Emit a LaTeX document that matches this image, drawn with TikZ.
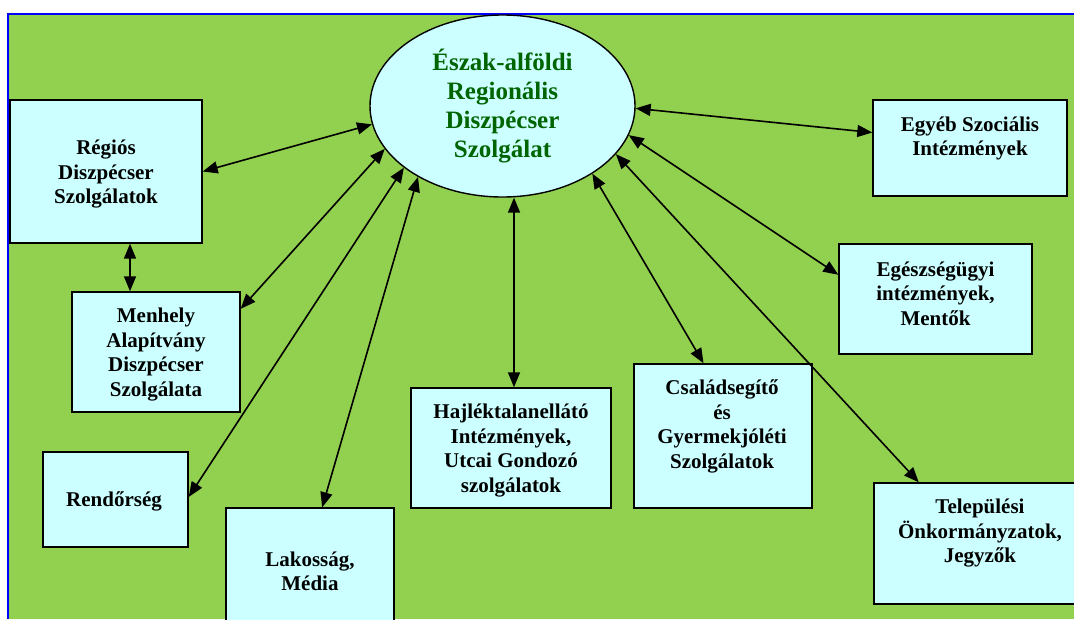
\documentclass[tikz,border=0pt]{standalone}
\usepackage{fontspec}
\setmainfont{Liberation Serif}
\usepackage{xcolor}
\usetikzlibrary{arrows.meta, shapes.geometric}
\definecolor{bggreen}{RGB}{146,208,80}
\definecolor{boxcyan}{RGB}{204,255,255}
\definecolor{titlegreen}{RGB}{0,100,0}
\definecolor{frameblue}{RGB}{0,0,255}

\begin{document}
\begin{tikzpicture}[x=1pt, y=-1pt]

% Define styles for the nodes
\tikzstyle{unit} = [rectangle, draw=black, line width=1.4pt, fill=boxcyan, inner sep=0pt]
\tikzstyle{caption} = [align=center, inner sep=0pt, font=\fontsize{21}{24.5}\selectfont\bfseries]
\tikzstyle{hub} = [ellipse, draw=black, line width=1.4pt, fill=boxcyan, inner sep=0pt, align=center, text=titlegreen, font=\fontsize{25}{29}\selectfont\bfseries]
\tikzstyle{link} = [{Triangle[length=15pt,width=12pt]}-{Triangle[length=15pt,width=12pt]}, line width=1.6pt]

% Background
\useasboundingbox (0,0) rectangle (1074,619);
\clip (0,0) rectangle (1074,619);
\fill[bggreen] (8,14) rectangle (1074,619);
\draw[frameblue, line width=2pt] (8,619) -- (8,14) -- (1074,14);

% Nodes
\node (dispatch) [hub, minimum width=265pt, minimum height=182pt] at (502.5,106) {Észak-alföldi\\Regionális\\Diszpécser\\Szolgálat};

\node (regios) [unit, minimum width=192pt, minimum height=143pt] at (106,171.5) {};
\node (regios-t) [caption] at (106,174.5) {Régiós\\Diszpécser\\Szolgálatok};

\node (menhely) [unit, minimum width=168pt, minimum height=120pt] at (156,352) {};
\node (menhely-t) [caption] at (156,354.5) {Menhely\\Alapítvány\\Diszpécser\\Szolgálata};

\node (rendorseg) [unit, minimum width=145pt, minimum height=95pt] at (115.5,499.5) {};
\node (rendorseg-t) [caption] at (114,501) {Rendőrség};

\node (lakossag) [unit, minimum width=168pt, minimum height=124pt] at (310,570) {};
\node (lakossag-t) [caption] at (310,571.5) {Lakosság,\\Média};

\node (hajlek) [unit, minimum width=200pt, minimum height=120pt] at (511,448) {};
\node (hajlek-t) [caption] at (511,450.5) {Hajléktalanellátó\\Intézmények,\\Utcai Gondozó\\szolgálatok};

\node (csalad) [unit, minimum width=178pt, minimum height=144pt] at (723,436) {};
\node (csalad-t) [caption] at (722,426.5) {Családsegítő\\és\\Gyermekjóléti\\Szolgálatok};

\node (egyeb) [unit, minimum width=194pt, minimum height=96pt] at (970,148) {};
\node (egyeb-t) [caption] at (970,138.5) {Egyéb Szociális\\Intézmények};

\node (egeszseg) [unit, minimum width=193pt, minimum height=110pt] at (935.5,299) {};
\node (egeszseg-t) [caption] at (935.5,293.5) {Egészségügyi\\intézmények,\\Mentők};

\node (telepules) [unit, minimum width=212pt, minimum height=121pt] at (980,543.5) {};
\node (telepules-t) [caption] at (980,533.5) {Települési\\Önkormányzatok,\\Jegyzők};

% Arrows
\draw[link] (regios.east) -- (dispatch.188);
\draw[link] ([xshift=24pt]regios.south) -- ([xshift=24pt]regios.south |- menhely.north);
\draw[link] (menhely.27) -- (dispatch.200);
\draw[link] (rendorseg.2) -- (dispatch.212);
\draw[link] (lakossag.79) -- (dispatch.220);
\draw[link] ([xshift=3pt]hajlek.north) -- ([xshift=3pt]hajlek.north |- dispatch.south);
\draw[link] (csalad.105) -- (dispatch.323);
\draw[link] (telepules.135) -- (dispatch.337);
\draw[link] (egeszseg.166) -- (dispatch.347);
\draw[link] (egyeb.171) -- (dispatch.359);

\end{tikzpicture}
\end{document}
